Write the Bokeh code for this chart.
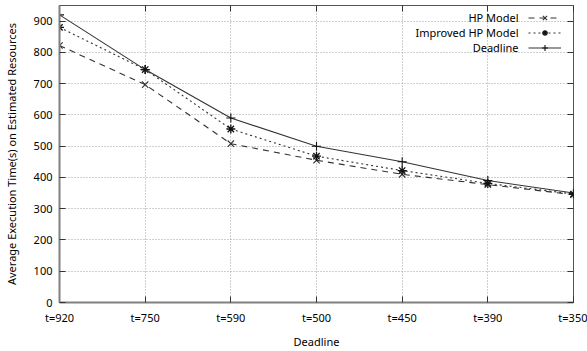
from bokeh.plotting import figure
from bokeh.models import (Range1d, FixedTicker, LinearAxis, Legend, LegendItem, Label,
                          CustomJSTickFormatter)
from bokeh.embed import file_html
from bokeh.resources import INLINE

categories = ["t=920", "t=750", "t=590", "t=500", "t=450", "t=390", "t=350"]
hp_model = [822, 697, 508, 455, 410, 377, 345]
improved_hp_model = [880, 745, 555, 468, 422, 381, 347]
deadline = [920, 745, 590, 500, 450, 390, 350]
y_ticks = [0, 100, 200, 300, 400, 500, 600, 700, 800, 900]

FONT = "Noto Sans"
LINE = "#333333"

xs = list(range(len(categories)))

p = figure(width=587, height=351, output_backend="svg", toolbar_location=None,
           x_range=Range1d(0, len(categories) - 1), y_range=Range1d(0, 950),
           min_border_left=59, min_border_right=14, min_border_top=5, min_border_bottom=44)
p.background_fill_color = "white"
p.border_fill_color = "white"
p.outline_line_color = "#555555"
p.outline_line_width = 1

# axes
p.xaxis.ticker = FixedTicker(ticks=xs)
p.xaxis.major_label_overrides = {i: c for i, c in enumerate(categories)}
p.yaxis.ticker = FixedTicker(ticks=y_ticks)
for ax in (p.xaxis[0], p.yaxis[0]):
    ax.axis_line_color = "#808080"
    ax.axis_line_width = 2
    ax.major_tick_in = 6
    ax.major_tick_out = 0
    ax.minor_tick_line_color = None
    ax.major_tick_line_color = "#333333"
    ax.major_label_text_font = FONT
    ax.major_label_text_font_size = "11px"
    ax.major_label_text_color = "#000000"
    ax.axis_label_text_font = FONT
    ax.axis_label_text_font_size = "11px"
    ax.axis_label_text_font_style = "normal"
    ax.axis_label_text_color = "#000000"
p.xaxis.major_label_standoff = 7
p.xaxis.axis_label = "Deadline"
p.xaxis.axis_label_standoff = 6
p.yaxis.major_label_standoff = 7
p.yaxis.axis_label = "Average Execution Time(s) on Estimated Resources"
p.yaxis.axis_label_standoff = 12

# mirror ticks (no labels)
blank = CustomJSTickFormatter(code="return ''")
top = LinearAxis(ticker=FixedTicker(ticks=xs), formatter=blank, major_label_standoff=0,
                 major_tick_in=6, major_tick_out=0, minor_tick_line_color=None,
                 axis_line_color=None, major_tick_line_color="#333333")
right = LinearAxis(ticker=FixedTicker(ticks=y_ticks), formatter=blank, major_label_standoff=0,
                   major_tick_in=6, major_tick_out=0, minor_tick_line_color=None,
                   axis_line_color=None, major_tick_line_color="#333333")
p.add_layout(top, "above")
p.add_layout(right, "right")

p.xgrid.grid_line_color = "#a0a0a0"
p.xgrid.grid_line_dash = "1 2"
p.ygrid.grid_line_color = "#a0a0a0"
p.ygrid.grid_line_dash = "1 2"

# series
l1 = p.line(xs, hp_model, line_color=LINE, line_width=1.1, line_dash="6 5")
m1 = p.scatter(xs, hp_model, marker="x", size=9, line_color=LINE, line_width=1.1)
l2 = p.line(xs, improved_hp_model, line_color=LINE, line_width=1.1, line_dash="2 3")
m2 = p.scatter(xs, improved_hp_model, marker="asterisk", size=9, line_color="#111111", line_width=1.3)
l3 = p.line(xs, deadline, line_color=LINE, line_width=1.1)
m3 = p.scatter(xs, deadline, marker="cross", size=9, line_color="#111111", line_width=1.1)

legend = Legend(items=[LegendItem(label=" ", renderers=[l1, m1]),
                       LegendItem(label=" ", renderers=[l2, m2]),
                       LegendItem(label=" ", renderers=[l3, m3])],
                location=(469, 247), orientation="vertical",
                glyph_width=33, glyph_height=15, label_height=15, label_width=0,
                label_standoff=0, padding=0, spacing=0, margin=0,
                border_line_color=None, background_fill_alpha=0,
                label_text_font_size="11px")
p.add_layout(legend, "center")

names = ["HP Model", "Improved HP Model", "Deadline"]
for i, n in enumerate(names):
    p.add_layout(Label(x=459, y=285 - 15 * i, x_units="screen", y_units="screen", text=n,
                       text_align="right", text_baseline="middle", text_font=FONT,
                       text_font_size="11px", text_color="#000000"))

open("out.html", "w").write(file_html(p, INLINE))
